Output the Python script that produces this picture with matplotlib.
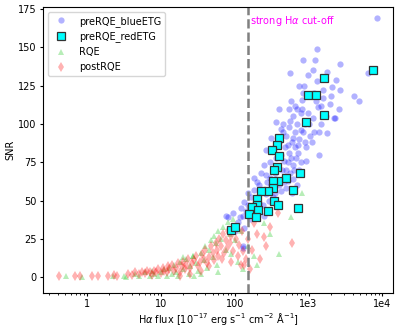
import matplotlib
matplotlib.use("Agg")
import matplotlib.pyplot as plt
from matplotlib.ticker import FixedLocator, FixedFormatter

# preRQE blue ETGs (Halpha flux, SNR)
blue_flux = [8500, 1310, 845, 1230, 2700, 560, 1150, 980, 1780, 6450, 2350, 870, 2090, 2700, 1590,
             4170, 4900, 580, 810, 1590, 1960, 400, 810, 980, 1350, 2600, 2300, 360, 790, 1480,
             2230, 425, 310, 615, 790, 1180, 1780, 265, 525, 720, 930, 1390, 720, 540, 930,
             615, 500, 250, 185, 265, 385, 525, 635, 215, 330, 180, 165, 265, 133, 215,
             120, 80, 128, 117, 132, 150, 128, 76, 130,
             450, 500, 550, 600, 480, 420, 650, 700, 560, 620, 460, 520, 580, 680, 750,
             850, 900, 380, 440, 350, 300, 400, 460, 330, 290, 240, 220, 200, 350, 420,
             310, 270, 500, 380, 180, 160, 250, 280, 700, 1000, 1100, 1200, 1400, 1700, 1000,
             850, 650, 750, 1300, 2000, 300, 350, 400, 560, 620, 740, 800, 900, 1050, 1500,
             360, 480, 700, 600, 230, 200, 150, 140, 110, 100, 95, 550, 650, 450, 1150, 1250]
blue_snr = [169, 149, 142, 142, 139, 133, 135, 132, 134, 133, 129, 125, 124, 122, 122,
            118, 115, 115, 116, 117, 113, 110, 110, 107, 111, 110, 104, 101, 107, 112,
            104, 97, 91, 91, 96, 95, 94, 83, 86, 86, 85, 80, 81, 81, 76,
            73, 70, 73, 65, 67, 63, 63, 70, 60, 58, 57, 52, 54, 49, 48,
            45, 39, 40, 39, 32, 47, 19, 40, 20,
            95, 92, 98, 88, 85, 80, 95, 100, 102, 105, 76, 75, 78, 78, 90,
            95, 100, 72, 70, 68, 65, 60, 62, 52, 50, 47, 55, 45, 55, 56,
            60, 62, 58, 48, 42, 38, 40, 44, 110, 100, 88, 120, 95, 105, 118,
            120, 112, 125, 128, 118, 75, 85, 88, 68, 64, 70, 75, 88, 92, 100,
            78, 66, 60, 55, 68, 62, 55, 43, 36, 30, 42, 110, 85, 100, 104, 115]

# preRQE red ETGs
red_flux = [7560, 1620, 980, 1260, 1620, 925, 397, 370, 320, 397, 370, 340, 765, 495, 380,
            330, 330, 280, 225, 620, 200, 340, 380, 200, 170, 720, 280, 205, 155, 195, 88, 100]
red_snr = [135, 130, 119, 119, 106, 101, 91, 86, 83, 79, 72, 70, 68, 65, 63,
           63, 58, 56, 56, 57, 51, 50, 47, 47, 46, 45, 43, 44, 41, 39, 31, 33]

# RQE
rqe_flux = [0.52, 0.85, 2.2, 3.1, 3.3, 4.5, 5, 6, 7, 7.5, 8, 9, 10, 11, 12, 13, 14, 15, 16, 17,
            18, 20, 22, 24, 25, 27, 30, 32, 35, 38, 40, 42, 45, 48, 50, 52, 55, 58, 60, 65,
            70, 75, 80, 85, 90, 95, 100, 110, 120, 130, 150, 180, 200, 250, 300, 575, 810,
            400, 60, 35, 28, 20, 27]
rqe_snr = [0.5, 0.3, 0.5, 0.5, 0.3, 2, 1, 3, 0.5, 4, 2, 1, 3, 5, 1, 6, 2, 8, 3, 0.5,
           10, 5, 12, 2, 7, 14, 9, 4, 16, 11, 20, 6, 18, 24, 13, 27, 22, 8, 30, 25,
           33, 18, 36, 28, 15, 38, 24, 10, 30, 5, 20, 14, 8, 35, 28, 39, 55,
           15, 3, 2, 1, 13, 14]

# postRQE
post_flux = [0.42, 0.69, 0.8, 1.17, 1.41, 1.93, 2.33, 2.56, 3.6, 4, 4.5, 5, 5.5, 6, 6.5, 7, 7.5,
             8, 8.5, 9, 10, 10.5, 11, 12, 12.5, 13, 14, 15, 16, 17, 18, 19, 20, 21, 22, 23,
             25, 26, 28, 30, 32, 34, 36, 38, 40, 42, 45, 48, 50, 52, 55, 58, 60, 62, 65,
             68, 70, 72, 75, 78, 80, 85, 88, 90, 95, 100, 105, 110, 115, 120, 125, 130, 140,
             150, 160, 170, 200, 220, 250, 265, 385, 600, 300, 133, 180, 35, 45, 25, 18]
post_snr = [0.5, 0.5, 0.5, 0.8, 0.8, 1, 1.5, 1, 2, 1.5, 3, 2, 3.5, 2.5, 4, 3, 1.5,
            4, 3, 5, 2.5, 6, 4, 3, 7, 5, 8, 4, 6, 9, 3, 7, 10, 5, 8, 12,
            6, 9, 11, 14, 7, 10, 15, 12, 18, 9, 13, 20, 16, 11, 22, 18, 14, 25, 20,
            12, 28, 16, 24, 19, 30, 22, 10, 27, 17, 33, 25, 14, 21, 8, 30, 17, 12,
            25, 5, 18, 28, 12, 26, 20, 42, 22, 33, 8, 35, 4, 7, 2, 1]

cutoff = 150

fig = plt.figure(figsize=(3.97, 3.29), dpi=100)
ax = fig.add_axes([0.108, 0.109, 0.882, 0.870])

ax.plot(blue_flux, blue_snr, 'o', color='blue', alpha=0.3, ms=4.5, mew=0,
        label='preRQE_blueETG')
ax.plot(red_flux, red_snr, 's', color='cyan', mec='#333333', mew=0.9, ms=5.5,
        label='preRQE_redETG', zorder=5)
ax.plot(rqe_flux, rqe_snr, '^', color='limegreen', alpha=0.35, ms=5, mew=0, label='RQE')
ax.plot(post_flux, post_snr, 'd', color='red', alpha=0.3, ms=5, mew=0, label='postRQE')

ax.axvline(cutoff, color='gray', ls='--', lw=1.8)
ax.text(cutoff * 1.08, 167, r'strong H$\alpha$ cut-off', color='magenta', fontsize=7,
        va='center')

ax.set_xscale('log')
ax.set_xlim(0.25, 14000)
ax.set_ylim(-10.5, 176.5)
ax.xaxis.set_major_locator(FixedLocator([1, 10, 100, 1000, 10000]))
ax.xaxis.set_major_formatter(FixedFormatter(['1', '10', '100', '1e3', '1e4']))
ax.set_yticks([0, 25, 50, 75, 100, 125, 150, 175])
ax.tick_params(labelsize=7, length=2.5, pad=2)
ax.tick_params(which='minor', length=1.5)

ax.set_xlabel(r'H$\alpha$ flux [10$^{-17}$ erg s$^{-1}$ cm$^{-2}$ $\mathrm{\AA}^{-1}$]',
              fontsize=7, labelpad=1)
ax.set_ylabel('SNR', fontsize=7, labelpad=2)
ax.legend(loc='upper left', fontsize=7)

fig.savefig('out.png', dpi=100)
